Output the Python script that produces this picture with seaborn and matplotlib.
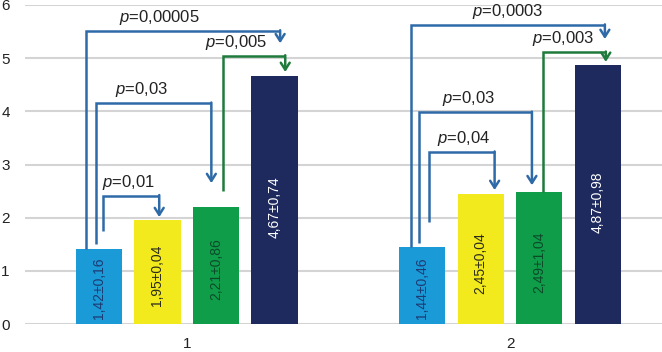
import pandas as pd
import seaborn as sns
import matplotlib.pyplot as plt

# data
groups = ['1', '2']
bar_keys = ['a', 'b', 'c', 'd']
means_1 = [1.42, 1.95, 2.21, 4.67]
sds_1 = [0.16, 0.04, 0.86, 0.74]
means_2 = [1.44, 2.45, 2.49, 4.87]
sds_2 = [0.46, 0.04, 1.04, 0.98]

# comparisons: (group index, from bar, to bar, p value text, kind)
comparisons = [
    (0, 0, 1, '0,01', 'blue'),
    (0, 0, 2, '0,03', 'blue'),
    (0, 0, 3, '0,00005', 'blue'),
    (0, 2, 3, '0,005', 'green'),
    (1, 0, 1, '0,04', 'blue'),
    (1, 0, 2, '0,03', 'blue'),
    (1, 0, 3, '0,0003', 'blue'),
    (1, 2, 3, '0,003', 'green'),
]

# bracket layout: start y, top y, arrow tip y, x frac in source bar,
# x frac in target bar, label position along the bracket
bracket_layout = [
    (1.75, 2.41, 2.01, 0.59, 0.54, 0.46),
    (1.50, 4.15, 2.65, 0.43, 0.40, 0.40),
    (1.42, 5.51, 5.28, 0.22, 0.62, 0.38),
    (2.50, 5.04, 4.74, 0.66, 0.73, 0.21),
    (1.92, 3.23, 2.52, 0.65, 0.80, 0.52),
    (1.52, 3.98, 2.61, 0.43, 0.34, 0.44),
    (1.44, 5.62, 5.36, 0.26, 0.65, 0.50),
    (2.49, 5.11, 4.93, 0.57, 0.67, 0.33),
]

bar_colors = ['#1a9ad7', '#f2ea1c', '#0f9d4a', '#1e2a5e']
text_colors = ['#1d3b73', '#2b2b1a', '#0c4a28', '#ffffff']
line_colors = {'blue': '#2f6aa8', 'green': '#1e7b3c'}

df = pd.DataFrame({
    'group': groups[0:1] * 4 + groups[1:2] * 4,
    'bar': bar_keys * 2,
    'mean': means_1 + means_2,
    'sd': sds_1 + sds_2,
})

sns.set_style('white')
plt.rcParams['font.family'] = ['Liberation Sans', 'DejaVu Sans']
plt.rcParams['mathtext.fontset'] = 'custom'
plt.rcParams['mathtext.it'] = 'Liberation Sans:italic'
plt.rcParams['mathtext.rm'] = 'Liberation Sans'

fig = plt.figure(figsize=(6.62, 3.52), dpi=100)
ax = fig.add_axes([25 / 662, 28 / 352, 637 / 662, 319 / 352])

sns.barplot(data=df, x='group', y='mean', hue='bar', hue_order=bar_keys,
            palette=bar_colors, saturation=1, width=0.725, gap=0.21,
            linewidth=0, legend=False, errorbar=None, ax=ax)

ax.set_ylim(0, 6)
ax.set_xlim(-0.5, 1.47)
ax.set_yticks(range(0, 7))
ax.yaxis.grid(True, color='#d4d4d4', linewidth=1.5)
ax.set_axisbelow(True)
sns.despine(ax=ax, left=True, bottom=True)
ax.set_xlabel('')
ax.set_ylabel('')
ax.tick_params(axis='y', length=0, pad=11, labelsize=11, labelcolor='#222222')
ax.tick_params(axis='x', length=0, pad=9, labelsize=11, labelcolor='#222222')

# bars[hue][group]
bars = [list(c) for c in ax.containers]

# value labels inside bars
for h in range(4):
    for g in range(2):
        b = bars[h][g]
        m = df[(df['group'] == groups[g]) & (df['bar'] == bar_keys[h])].iloc[0]
        txt = f"{m['mean']:.2f}±{m['sd']:.2f}".replace('.', ',')
        ax.text(b.get_x() + b.get_width() / 2, b.get_height() * 0.47, txt,
                rotation=90, ha='center', va='center', fontsize=10,
                color=text_colors[h])

# brackets with arrows
for (g, src, dst, pval, kind), (y0, ytop, ytip, fs, fd, fl) in zip(comparisons, bracket_layout):
    col = line_colors[kind]
    bs = bars[src][g]
    bd = bars[dst][g]
    x0 = bs.get_x() + bs.get_width() * fs
    x1 = bd.get_x() + bd.get_width() * fd
    ax.plot([x0, x0, x1], [y0, ytop, ytop], color=col, lw=1.8,
            solid_joinstyle='miter', solid_capstyle='butt')
    ax.annotate('', xy=(x1, ytip), xytext=(x1, ytop + 0.015),
                arrowprops=dict(arrowstyle='->,head_length=0.5,head_width=0.32',
                                color=col, lw=1.8, shrinkA=0, shrinkB=0))
    ax.annotate(r'$\mathit{p}$=' + pval, xy=(x0 + (x1 - x0) * fl, ytop),
                xytext=(0, 3), textcoords='offset points',
                ha='center', va='bottom', fontsize=12, color='#222222')

fig.savefig('out.png', dpi=100)
